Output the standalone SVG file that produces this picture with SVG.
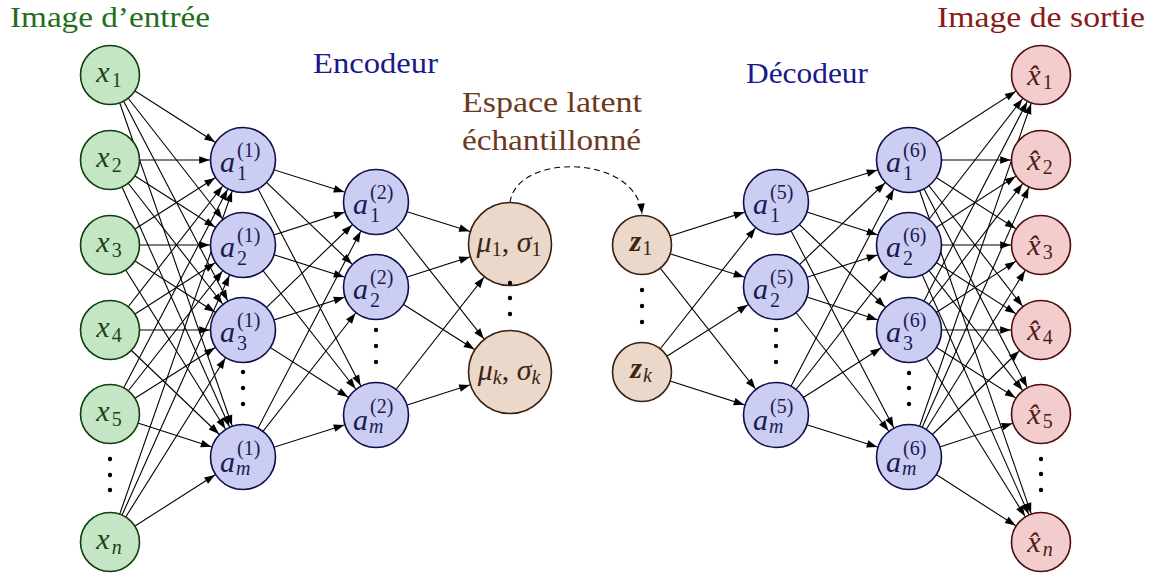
<svg xmlns="http://www.w3.org/2000/svg" xmlns:xlink="http://www.w3.org/1999/xlink" width="1155" height="573" viewBox="0 0 1155 573" font-size="30">
<defs>
<marker id="a33" markerUnits="userSpaceOnUse" orient="auto" refX="33.3" refY="0" markerWidth="1" markerHeight="1" overflow="visible"><path d="M0,0 L-10.5,-3.8 L-10.5,3.8 Z" fill="#000" stroke="none"/></marker>
<marker id="a42" markerUnits="userSpaceOnUse" orient="auto" refX="42.3" refY="0" markerWidth="1" markerHeight="1" overflow="visible"><path d="M0,0 L-10.5,-3.8 L-10.5,3.8 Z" fill="#000" stroke="none"/></marker>
<marker id="a30" markerUnits="userSpaceOnUse" orient="auto" refX="30.3" refY="0" markerWidth="1" markerHeight="1" overflow="visible"><path d="M0,0 L-10.5,-3.8 L-10.5,3.8 Z" fill="#000" stroke="none"/></marker>
<marker id="a0" markerUnits="userSpaceOnUse" orient="auto" refX="0" refY="0" markerWidth="1" markerHeight="1" overflow="visible"><path d="M0,0 L-10.5,-3.8 L-10.5,3.8 Z" fill="#000" stroke="none"/></marker>
<circle id="cg" cx="0" cy="0" r="29.5" fill="#c4e6c4" stroke="#0f3f0f" stroke-width="1.6"/>
<circle id="cb" cx="0" cy="0" r="32.5" fill="#cccdf2" stroke="#0d0d4d" stroke-width="1.6"/>
<circle id="cl" cx="0" cy="0" r="41.5" fill="#ead8cb" stroke="#3a1f0f" stroke-width="1.6"/>
<circle id="cz" cx="0" cy="0" r="29.5" fill="#ead8cb" stroke="#3a1f0f" stroke-width="1.6"/>
<circle id="cr" cx="0" cy="0" r="29.5" fill="#f3cdcd" stroke="#4d0d0d" stroke-width="1.6"/>
</defs>

<g id="connectors" stroke="#000" stroke-width="1.1" fill="none">
 <g marker-end="url(#a33)">
  <line x1="110" y1="75" x2="243" y2="160"/><line x1="110" y1="75" x2="243" y2="245"/><line x1="110" y1="75" x2="243" y2="330"/><line x1="110" y1="75" x2="243" y2="457"/>
  <line x1="110" y1="160" x2="243" y2="160"/><line x1="110" y1="160" x2="243" y2="245"/><line x1="110" y1="160" x2="243" y2="330"/><line x1="110" y1="160" x2="243" y2="457"/>
  <line x1="110" y1="245" x2="243" y2="160"/><line x1="110" y1="245" x2="243" y2="245"/><line x1="110" y1="245" x2="243" y2="330"/><line x1="110" y1="245" x2="243" y2="457"/>
  <line x1="110" y1="330" x2="243" y2="160"/><line x1="110" y1="330" x2="243" y2="245"/><line x1="110" y1="330" x2="243" y2="330"/><line x1="110" y1="330" x2="243" y2="457"/>
  <line x1="110" y1="414" x2="243" y2="160"/><line x1="110" y1="414" x2="243" y2="245"/><line x1="110" y1="414" x2="243" y2="330"/><line x1="110" y1="414" x2="243" y2="457"/>
  <line x1="110" y1="542" x2="243" y2="160"/><line x1="110" y1="542" x2="243" y2="245"/><line x1="110" y1="542" x2="243" y2="330"/><line x1="110" y1="542" x2="243" y2="457"/>
  <line x1="243" y1="160" x2="376" y2="202"/><line x1="243" y1="160" x2="376" y2="287"/><line x1="243" y1="160" x2="376" y2="415"/>
  <line x1="243" y1="245" x2="376" y2="202"/><line x1="243" y1="245" x2="376" y2="287"/><line x1="243" y1="245" x2="376" y2="415"/>
  <line x1="243" y1="330" x2="376" y2="202"/><line x1="243" y1="330" x2="376" y2="287"/><line x1="243" y1="330" x2="376" y2="415"/>
  <line x1="243" y1="457" x2="376" y2="202"/><line x1="243" y1="457" x2="376" y2="287"/><line x1="243" y1="457" x2="376" y2="415"/>
  <line x1="642" y1="245" x2="776" y2="202"/><line x1="642" y1="245" x2="776" y2="287"/><line x1="642" y1="245" x2="776" y2="415"/>
  <line x1="642" y1="372" x2="776" y2="202"/><line x1="642" y1="372" x2="776" y2="287"/><line x1="642" y1="372" x2="776" y2="415"/>
  <line x1="776" y1="202" x2="909" y2="160"/><line x1="776" y1="202" x2="909" y2="245"/><line x1="776" y1="202" x2="909" y2="330"/><line x1="776" y1="202" x2="909" y2="457"/>
  <line x1="776" y1="287" x2="909" y2="160"/><line x1="776" y1="287" x2="909" y2="245"/><line x1="776" y1="287" x2="909" y2="330"/><line x1="776" y1="287" x2="909" y2="457"/>
  <line x1="776" y1="415" x2="909" y2="160"/><line x1="776" y1="415" x2="909" y2="245"/><line x1="776" y1="415" x2="909" y2="330"/><line x1="776" y1="415" x2="909" y2="457"/>
 </g>
 <g marker-end="url(#a42)">
  <line x1="376" y1="202" x2="510" y2="244"/><line x1="376" y1="202" x2="510" y2="372"/>
  <line x1="376" y1="287" x2="510" y2="244"/><line x1="376" y1="287" x2="510" y2="372"/>
  <line x1="376" y1="415" x2="510" y2="244"/><line x1="376" y1="415" x2="510" y2="372"/>
 </g>
 <g marker-end="url(#a30)">
  <line x1="909" y1="160" x2="1041" y2="75"/><line x1="909" y1="160" x2="1041" y2="160"/><line x1="909" y1="160" x2="1041" y2="245"/><line x1="909" y1="160" x2="1041" y2="330"/><line x1="909" y1="160" x2="1041" y2="414"/><line x1="909" y1="160" x2="1041" y2="542"/>
  <line x1="909" y1="245" x2="1041" y2="75"/><line x1="909" y1="245" x2="1041" y2="160"/><line x1="909" y1="245" x2="1041" y2="245"/><line x1="909" y1="245" x2="1041" y2="330"/><line x1="909" y1="245" x2="1041" y2="414"/><line x1="909" y1="245" x2="1041" y2="542"/>
  <line x1="909" y1="330" x2="1041" y2="75"/><line x1="909" y1="330" x2="1041" y2="160"/><line x1="909" y1="330" x2="1041" y2="245"/><line x1="909" y1="330" x2="1041" y2="330"/><line x1="909" y1="330" x2="1041" y2="414"/><line x1="909" y1="330" x2="1041" y2="542"/>
  <line x1="909" y1="457" x2="1041" y2="75"/><line x1="909" y1="457" x2="1041" y2="160"/><line x1="909" y1="457" x2="1041" y2="245"/><line x1="909" y1="457" x2="1041" y2="330"/><line x1="909" y1="457" x2="1041" y2="414"/><line x1="909" y1="457" x2="1041" y2="542"/>
 </g>
 <path d="M510,202.5 C516,153 636,153 642,214" stroke-dasharray="6 4" marker-end="url(#a0)"/>
</g>

<!-- input nodes -->
<g id="input-layer" fill="#1f3f1f">
<g id="x1"><use xlink:href="#cg" x="110" y="75"/><text font-family="Liberation Serif, DejaVu Serif, Noto Serif, serif" x="109" y="82" text-anchor="middle"><tspan font-style="italic">x</tspan><tspan font-size="20" dx="2" dy="5">1</tspan></text></g>
<g id="x2"><use xlink:href="#cg" x="110" y="160"/><text font-family="Liberation Serif, DejaVu Serif, Noto Serif, serif" x="109" y="167" text-anchor="middle"><tspan font-style="italic">x</tspan><tspan font-size="20" dx="2" dy="5">2</tspan></text></g>
<g id="x3"><use xlink:href="#cg" x="110" y="245"/><text font-family="Liberation Serif, DejaVu Serif, Noto Serif, serif" x="109" y="252" text-anchor="middle"><tspan font-style="italic">x</tspan><tspan font-size="20" dx="2" dy="5">3</tspan></text></g>
<g id="x4"><use xlink:href="#cg" x="110" y="330"/><text font-family="Liberation Serif, DejaVu Serif, Noto Serif, serif" x="109" y="337" text-anchor="middle"><tspan font-style="italic">x</tspan><tspan font-size="20" dx="2" dy="5">4</tspan></text></g>
<g id="x5"><use xlink:href="#cg" x="110" y="414"/><text font-family="Liberation Serif, DejaVu Serif, Noto Serif, serif" x="109" y="421" text-anchor="middle"><tspan font-style="italic">x</tspan><tspan font-size="20" dx="2" dy="5">5</tspan></text></g>
<g id="xn"><use xlink:href="#cg" x="110" y="542"/><text font-family="Liberation Serif, DejaVu Serif, Noto Serif, serif" x="109" y="549" text-anchor="middle"><tspan font-style="italic">x</tspan><tspan font-size="20" font-style="italic" dx="2" dy="5">n</tspan></text></g>
</g>

<!-- encoder layers -->
<g id="encoder" fill="#1a1a55">
<g id="a1_1"><use xlink:href="#cb" x="243" y="160"/><text font-family="Liberation Serif, DejaVu Serif, Noto Serif, serif"><tspan font-style="italic" x="220" y="172">a</tspan><tspan font-size="20" x="237" y="180">1</tspan><tspan font-size="20" x="237" y="157">(1)</tspan></text></g>
<g id="a2_1"><use xlink:href="#cb" x="243" y="245"/><text font-family="Liberation Serif, DejaVu Serif, Noto Serif, serif"><tspan font-style="italic" x="220" y="257">a</tspan><tspan font-size="20" x="237" y="265">2</tspan><tspan font-size="20" x="237" y="242">(1)</tspan></text></g>
<g id="a3_1"><use xlink:href="#cb" x="243" y="330"/><text font-family="Liberation Serif, DejaVu Serif, Noto Serif, serif"><tspan font-style="italic" x="220" y="342">a</tspan><tspan font-size="20" x="237" y="350">3</tspan><tspan font-size="20" x="237" y="327">(1)</tspan></text></g>
<g id="am_1"><use xlink:href="#cb" x="243" y="457"/><text font-family="Liberation Serif, DejaVu Serif, Noto Serif, serif"><tspan font-style="italic" x="220" y="472">a</tspan><tspan font-size="20" font-style="italic" x="236" y="475">m</tspan><tspan font-size="20" x="237" y="455">(1)</tspan></text></g>
<g id="a1_2"><use xlink:href="#cb" x="376" y="202"/><text font-family="Liberation Serif, DejaVu Serif, Noto Serif, serif"><tspan font-style="italic" x="353" y="214">a</tspan><tspan font-size="20" x="370" y="222">1</tspan><tspan font-size="20" x="370" y="199">(2)</tspan></text></g>
<g id="a2_2"><use xlink:href="#cb" x="376" y="287"/><text font-family="Liberation Serif, DejaVu Serif, Noto Serif, serif"><tspan font-style="italic" x="353" y="299">a</tspan><tspan font-size="20" x="370" y="307">2</tspan><tspan font-size="20" x="370" y="284">(2)</tspan></text></g>
<g id="am_2"><use xlink:href="#cb" x="376" y="415"/><text font-family="Liberation Serif, DejaVu Serif, Noto Serif, serif"><tspan font-style="italic" x="353" y="430">a</tspan><tspan font-size="20" font-style="italic" x="369" y="433">m</tspan><tspan font-size="20" x="370" y="413">(2)</tspan></text></g>
</g>

<!-- latent -->
<g id="latent" fill="#3f2410">
<g id="mu1"><use xlink:href="#cl" x="510" y="244"/><text font-family="Liberation Serif, DejaVu Serif, Noto Serif, serif" x="509" y="252" text-anchor="middle"><tspan font-style="italic">μ</tspan><tspan font-size="20" dy="4">1</tspan><tspan dy="-4">, </tspan><tspan font-style="italic">σ</tspan><tspan font-size="20" dy="4">1</tspan></text></g>
<g id="muk"><use xlink:href="#cl" x="510" y="372"/><text font-family="Liberation Serif, DejaVu Serif, Noto Serif, serif" x="509" y="380" text-anchor="middle"><tspan font-style="italic">μ</tspan><tspan font-size="20" font-style="italic" dy="4">k</tspan><tspan dy="-4">, </tspan><tspan font-style="italic">σ</tspan><tspan font-size="20" font-style="italic" dy="4">k</tspan></text></g>
<g id="z1"><use xlink:href="#cz" x="642" y="245"/><text font-family="Liberation Serif, DejaVu Serif, Noto Serif, serif" x="641" y="251" text-anchor="middle"><tspan font-style="italic" font-weight="bold">z</tspan><tspan font-size="20" dx="1" dy="4">1</tspan></text></g>
<g id="zk"><use xlink:href="#cz" x="642" y="372"/><text font-family="Liberation Serif, DejaVu Serif, Noto Serif, serif" x="641" y="378" text-anchor="middle"><tspan font-style="italic" font-weight="bold">z</tspan><tspan font-size="20" font-style="italic" dx="1" dy="4">k</tspan></text></g>
</g>

<!-- decoder layers -->
<g id="decoder" fill="#1a1a55">
<g id="a1_5"><use xlink:href="#cb" x="776" y="202"/><text font-family="Liberation Serif, DejaVu Serif, Noto Serif, serif"><tspan font-style="italic" x="753" y="214">a</tspan><tspan font-size="20" x="770" y="222">1</tspan><tspan font-size="20" x="770" y="199">(5)</tspan></text></g>
<g id="a2_5"><use xlink:href="#cb" x="776" y="287"/><text font-family="Liberation Serif, DejaVu Serif, Noto Serif, serif"><tspan font-style="italic" x="753" y="299">a</tspan><tspan font-size="20" x="770" y="307">2</tspan><tspan font-size="20" x="770" y="284">(5)</tspan></text></g>
<g id="am_5"><use xlink:href="#cb" x="776" y="415"/><text font-family="Liberation Serif, DejaVu Serif, Noto Serif, serif"><tspan font-style="italic" x="753" y="430">a</tspan><tspan font-size="20" font-style="italic" x="769" y="433">m</tspan><tspan font-size="20" x="770" y="413">(5)</tspan></text></g>
<g id="a1_6"><use xlink:href="#cb" x="909" y="160"/><text font-family="Liberation Serif, DejaVu Serif, Noto Serif, serif"><tspan font-style="italic" x="886" y="172">a</tspan><tspan font-size="20" x="903" y="180">1</tspan><tspan font-size="20" x="903" y="157">(6)</tspan></text></g>
<g id="a2_6"><use xlink:href="#cb" x="909" y="245"/><text font-family="Liberation Serif, DejaVu Serif, Noto Serif, serif"><tspan font-style="italic" x="886" y="257">a</tspan><tspan font-size="20" x="903" y="265">2</tspan><tspan font-size="20" x="903" y="242">(6)</tspan></text></g>
<g id="a3_6"><use xlink:href="#cb" x="909" y="330"/><text font-family="Liberation Serif, DejaVu Serif, Noto Serif, serif"><tspan font-style="italic" x="886" y="342">a</tspan><tspan font-size="20" x="903" y="350">3</tspan><tspan font-size="20" x="903" y="327">(6)</tspan></text></g>
<g id="am_6"><use xlink:href="#cb" x="909" y="457"/><text font-family="Liberation Serif, DejaVu Serif, Noto Serif, serif"><tspan font-style="italic" x="886" y="472">a</tspan><tspan font-size="20" font-style="italic" x="902" y="475">m</tspan><tspan font-size="20" x="903" y="455">(6)</tspan></text></g>
</g>

<!-- output nodes -->
<g id="output-layer" fill="#4f1a1a">
<g id="xh1"><use xlink:href="#cr" x="1041" y="75"/><text font-family="Liberation Serif, DejaVu Serif, Noto Serif, serif" x="1040" y="85" text-anchor="middle"><tspan font-style="italic">x̂</tspan><tspan font-size="20" dx="2" dy="4">1</tspan></text></g>
<g id="xh2"><use xlink:href="#cr" x="1041" y="160"/><text font-family="Liberation Serif, DejaVu Serif, Noto Serif, serif" x="1040" y="170" text-anchor="middle"><tspan font-style="italic">x̂</tspan><tspan font-size="20" dx="2" dy="4">2</tspan></text></g>
<g id="xh3"><use xlink:href="#cr" x="1041" y="245"/><text font-family="Liberation Serif, DejaVu Serif, Noto Serif, serif" x="1040" y="255" text-anchor="middle"><tspan font-style="italic">x̂</tspan><tspan font-size="20" dx="2" dy="4">3</tspan></text></g>
<g id="xh4"><use xlink:href="#cr" x="1041" y="330"/><text font-family="Liberation Serif, DejaVu Serif, Noto Serif, serif" x="1040" y="340" text-anchor="middle"><tspan font-style="italic">x̂</tspan><tspan font-size="20" dx="2" dy="4">4</tspan></text></g>
<g id="xh5"><use xlink:href="#cr" x="1041" y="414"/><text font-family="Liberation Serif, DejaVu Serif, Noto Serif, serif" x="1040" y="424" text-anchor="middle"><tspan font-style="italic">x̂</tspan><tspan font-size="20" dx="2" dy="4">5</tspan></text></g>
<g id="xhn"><use xlink:href="#cr" x="1041" y="542"/><text font-family="Liberation Serif, DejaVu Serif, Noto Serif, serif" x="1040" y="552" text-anchor="middle"><tspan font-style="italic">x̂</tspan><tspan font-size="20" font-style="italic" dx="2" dy="4">n</tspan></text></g>
</g>

<!-- ellipsis dots -->
<g id="dots" fill="#000">
 <circle cx="110" cy="459" r="2.2"/><circle cx="110" cy="475" r="2.2"/><circle cx="110" cy="490" r="2.2"/>
 <circle cx="243" cy="372" r="2.2"/><circle cx="243" cy="388" r="2.2"/><circle cx="243" cy="404" r="2.2"/>
 <circle cx="376" cy="330" r="2.2"/><circle cx="376" cy="346" r="2.2"/><circle cx="376" cy="362" r="2.2"/>
 <circle cx="510" cy="283" r="2.2"/><circle cx="510" cy="298" r="2.2"/><circle cx="510" cy="314" r="2.2"/>
 <circle cx="642" cy="290" r="2.2"/><circle cx="642" cy="306" r="2.2"/><circle cx="642" cy="322" r="2.2"/>
 <circle cx="776" cy="330" r="2.2"/><circle cx="776" cy="346" r="2.2"/><circle cx="776" cy="362" r="2.2"/>
 <circle cx="909" cy="373" r="2.2"/><circle cx="909" cy="388" r="2.2"/><circle cx="909" cy="404" r="2.2"/>
 <circle cx="1041" cy="459" r="2.2"/><circle cx="1041" cy="474" r="2.2"/><circle cx="1041" cy="490" r="2.2"/>
</g>

<!-- titles -->
<g id="titles">
 <text font-family="Liberation Serif, DejaVu Serif, Noto Serif, serif" x="10" y="27" fill="#1e6e1e" textLength="200" lengthAdjust="spacingAndGlyphs">Image d’entrée</text>
 <text font-family="Liberation Serif, DejaVu Serif, Noto Serif, serif" x="937" y="27" fill="#8a1a1a" textLength="208" lengthAdjust="spacingAndGlyphs">Image de sortie</text>
 <text font-family="Liberation Serif, DejaVu Serif, Noto Serif, serif" x="313" y="73" fill="#1a1a8a" textLength="125" lengthAdjust="spacingAndGlyphs">Encodeur</text>
 <text font-family="Liberation Serif, DejaVu Serif, Noto Serif, serif" x="746" y="83" fill="#1a1a8a" textLength="122" lengthAdjust="spacingAndGlyphs">Décodeur</text>
 <text font-family="Liberation Serif, DejaVu Serif, Noto Serif, serif" x="462" y="112" fill="#6b3a1e" textLength="180" lengthAdjust="spacingAndGlyphs">Espace latent</text>
 <text font-family="Liberation Serif, DejaVu Serif, Noto Serif, serif" x="462" y="150" fill="#6b3a1e" textLength="179" lengthAdjust="spacingAndGlyphs">échantillonné</text>
</g>
</svg>
